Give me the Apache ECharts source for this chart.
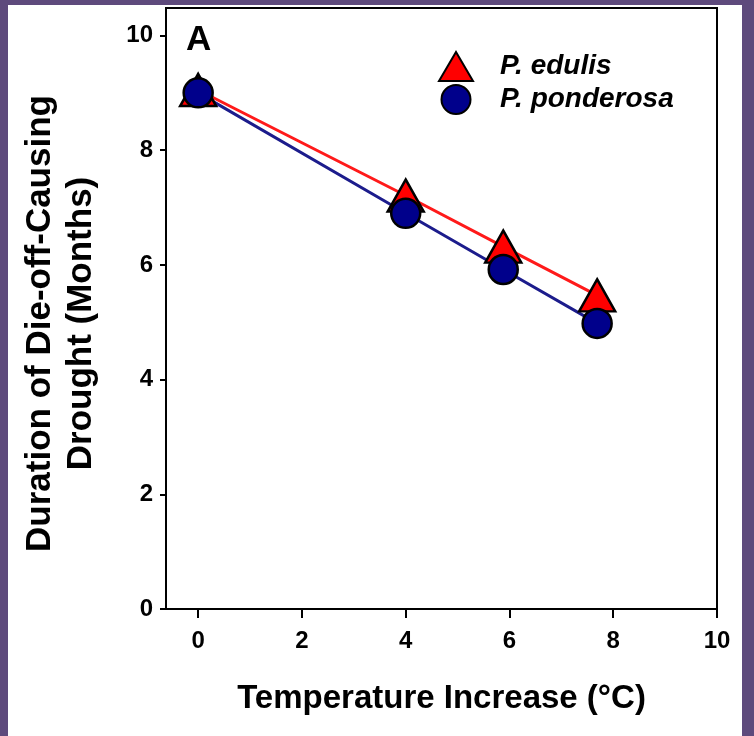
<!DOCTYPE html>
<html>
<head>
<meta charset="utf-8">
<script src="https://cdn.jsdelivr.net/npm/echarts@6/dist/echarts.min.js"></script>
<style>
    html, body { margin: 0; padding: 0; background: #5e4a7c; }
    /* white sheet inside the purple frame */
    #sheet { position: absolute; left: 8px; top: 5px; width: 734px; height: 731px; background: #fff; }
    #chart { position: absolute; left: 0; top: 0; width: 754px; height: 736px; }
</style>
</head>
<body>
<div id="sheet"></div>
<div id="chart"></div>
<script>
// temperature increase (°C)
const tempEdulis = [0, 4, 5.88, 7.69];
const tempPonderosa = [0, 4, 5.88, 7.69];
// duration of die-off-causing drought (months)
const durEdulis = [9.05, 7.21, 6.32, 5.47];
const durPonderosa = [9.0, 6.9, 5.92, 4.98];
const xTicks = [0, 2, 4, 6, 8, 10];
const yTicks = [0, 2, 4, 6, 8, 10];
const seriesNames = ['P. edulis', 'P. ponderosa'];

const font = "'Liberation Sans', Arial, sans-serif";
const pairs = (xs, ys) => xs.map((x, i) => [x, ys[i]]);

const chart = echarts.init(document.getElementById('chart'), null, { renderer: 'canvas' });

chart.setOption({
    backgroundColor: 'transparent',
    animation: false,
    title: {
        text: 'A',
        left: 181,
        top: 18,
        textStyle: { fontFamily: font, fontWeight: 'bold', fontSize: 35, color: '#000' }
    },
    legend: {
        data: seriesNames,
        orient: 'vertical',
        left: 433,
        top: 46,
        itemWidth: 34,
        itemHeight: 29,
        itemGap: 2,
        textStyle: {
            fontFamily: font, fontWeight: 'bold', fontStyle: 'italic', fontSize: 28, color: '#000',
            padding: [0, 0, 0, 22]
        }
    },
    grid: {
        left: 166, right: 37, top: 8, bottom: 127,
        show: true, borderColor: '#000', borderWidth: 2, backgroundColor: '#fff'
    },
    xAxis: {
        type: 'value',
        min: -0.62,
        max: 10,
        name: 'Temperature Increase (°C)',
        nameLocation: 'middle',
        nameGap: 73,
        nameTextStyle: { fontFamily: font, fontWeight: 'bold', fontSize: 33, color: '#000' },
        axisLine: { show: true, onZero: false, lineStyle: { color: '#000', width: 2 } },
        axisTick: { show: true, length: 9, lineStyle: { color: '#000', width: 2 }, customValues: xTicks },
        axisLabel: { fontFamily: font, fontWeight: 'bold', fontSize: 24, color: '#000', margin: 20, customValues: xTicks },
        splitLine: { show: false }
    },
    yAxis: {
        type: 'value',
        min: 0,
        max: 10.48,
        name: 'Duration of Die-off-Causing\nDrought (Months)',
        nameLocation: 'middle',
        nameGap: 64,
        nameTextStyle: {
            fontFamily: font, fontWeight: 'bold', fontSize: 35, color: '#000',
            lineHeight: 41, padding: [0, 30, 0, 0]
        },
        axisLine: { show: true, onZero: false, lineStyle: { color: '#000', width: 2 } },
        axisTick: { show: true, length: 6, lineStyle: { color: '#000', width: 2 }, customValues: yTicks },
        axisLabel: { fontFamily: font, fontWeight: 'bold', fontSize: 24, color: '#000', margin: 13, customValues: yTicks },
        splitLine: { show: false }
    },
    series: [
        {
            name: 'edulis-line',
            type: 'line',
            data: pairs(tempEdulis, durEdulis),
            symbol: 'none',
            z: 1,
            lineStyle: { color: '#ff1a1a', width: 3 }
        },
        {
            name: 'ponderosa-line',
            type: 'line',
            data: pairs(tempPonderosa, durPonderosa),
            symbol: 'none',
            z: 1,
            lineStyle: { color: '#1c1c8c', width: 3 }
        },
        {
            name: seriesNames[0],
            type: 'scatter',
            data: pairs(tempEdulis, durEdulis),
            symbol: 'triangle',
            symbolSize: [36, 32],
            z: 3,
            itemStyle: { color: '#ff0000', borderColor: '#000', borderWidth: 2.5, opacity: 1 }
        },
        {
            name: seriesNames[1],
            type: 'scatter',
            data: pairs(tempPonderosa, durPonderosa),
            symbol: 'circle',
            symbolSize: 29,
            z: 4,
            itemStyle: { color: '#00008b', borderColor: '#000', borderWidth: 2.5, opacity: 1 }
        }
    ]
});
</script>
</body>
</html>
